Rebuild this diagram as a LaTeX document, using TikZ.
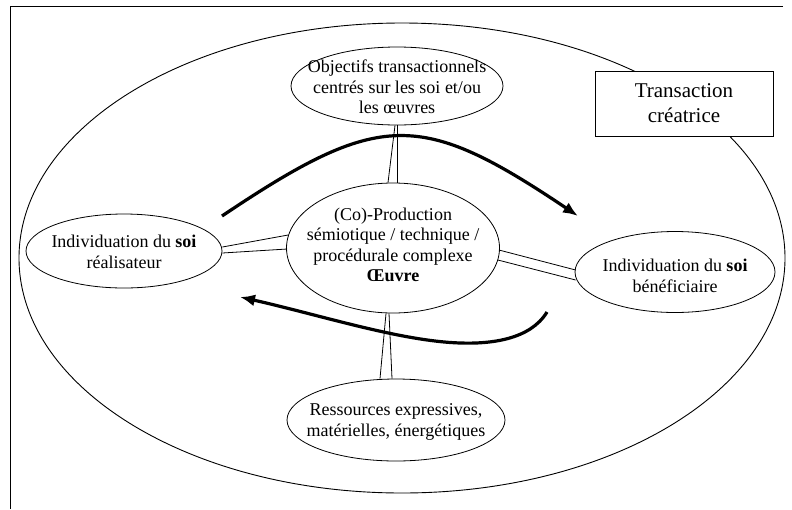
\documentclass[tikz,border=0pt]{standalone}
\usepackage{fontspec}
\setmainfont{Liberation Serif}
\usetikzlibrary{shapes.geometric,arrows.meta,calc}
\begin{document}
\begin{tikzpicture}[x=1pt,y=-1pt,
  bubble/.style={ellipse, draw, fill=white, line width=0.8pt, inner sep=0pt},
  txt/.style={align=center, font=\fontsize{18}{20.5}\selectfont, inner sep=0pt},
  link/.style={line width=0.8pt},
  flow/.style={line width=3.2pt, -{Latex[length=15pt,width=12pt]}}]
\useasboundingbox (0,0) rectangle (792,509);
% frame
\coordinate (fr1) at (783,6);
\coordinate (fr2) at (10,6);
\coordinate (fr3) at (10,509);
\draw[line width=1pt] (fr1) -- (fr2) -- (fr3);
% outer ellipse
\node[ellipse, draw, line width=0.9pt, minimum width=766pt, minimum height=470pt, inner sep=0pt] (outer) at (402,258) {};
% box
\node[draw, fill=white, line width=0.9pt, minimum width=178pt, minimum height=65pt, inner sep=0pt, align=center, font=\fontsize{21}{25}\selectfont] (box) at (684,103.5) {Transaction\\créatrice};
% ellipses
\node[bubble, minimum width=212pt, minimum height=78pt] (obj) at (397,86) {};
\node[bubble, minimum width=213pt, minimum height=130pt] (prod) at (393,248) {};
\node[bubble, minimum width=196pt, minimum height=74pt] (lft) at (124,251) {};
\node[bubble, minimum width=200pt, minimum height=81pt] (rgt) at (675,272) {};
\node[bubble, minimum width=218pt, minimum height=82pt] (res) at (396,420) {};
% texts
\node[txt] (objt) at ($(obj)+(0,1)$) {Objectifs transactionnels\\centrés sur les soi et/ou\\les œuvres};
\node[txt] (prodt) at ($(prod)+(0,-3)$) {(Co)-Production\\sémiotique / technique /\\procédurale complexe\\\textbf{Œuvre}};
\node[txt] (lftt) at ($(lft)+(0,1)$) {Individuation du \textbf{soi}\\réalisateur};
\node[txt] (rgtt) at ($(rgt)+(0,4)$) {Individuation du \textbf{soi}\\bénéficiaire};
\node[txt] (rest) at ($(res)+(0,2)$) {Ressources expressives,\\matérielles, énergétiques};
% double connectors
\draw[link] ($(obj.south)+(-2,0)$) -- ($(prod.north)+(-5,0)$);
\draw[link] ($(obj.south)+(0,0)$) -- ($(prod.north)+(4,0)$);
\draw[link] ($(lft.east)+(0,-4)$) -- ($(prod.west)+(2,-13)$);
\draw[link] ($(lft.east)+(0,2)$) -- ($(prod.west)+(1,1)$);
\draw[link] ($(prod.east)+(-1,2)$) -- ($(rgt.west)+(1,-2)$);
\draw[link] ($(prod.east)+(-2,12)$) -- ($(rgt.west)+(1,8)$);
\draw[link] ($(prod.south)+(-7,0)$) -- ($(res.north)+(-16,0)$);
\draw[link] ($(prod.south)+(-4,0)$) -- ($(res.north)+(-4,0)$);
% flow arrows
\coordinate (a1) at (222,216);
\coordinate (a2) at (578,216);
\draw[flow] (a1) .. controls (380,110) and (420,110) .. (a2);
\coordinate (b1) at (547,312);
\coordinate (b2) at (460,343);
\coordinate (b3) at (240,297);
\draw[flow] (b1) .. controls (530,340) and (490,344) .. (b2) .. controls (400,341) and (320,315) .. (b3);
\end{tikzpicture}
\end{document}
